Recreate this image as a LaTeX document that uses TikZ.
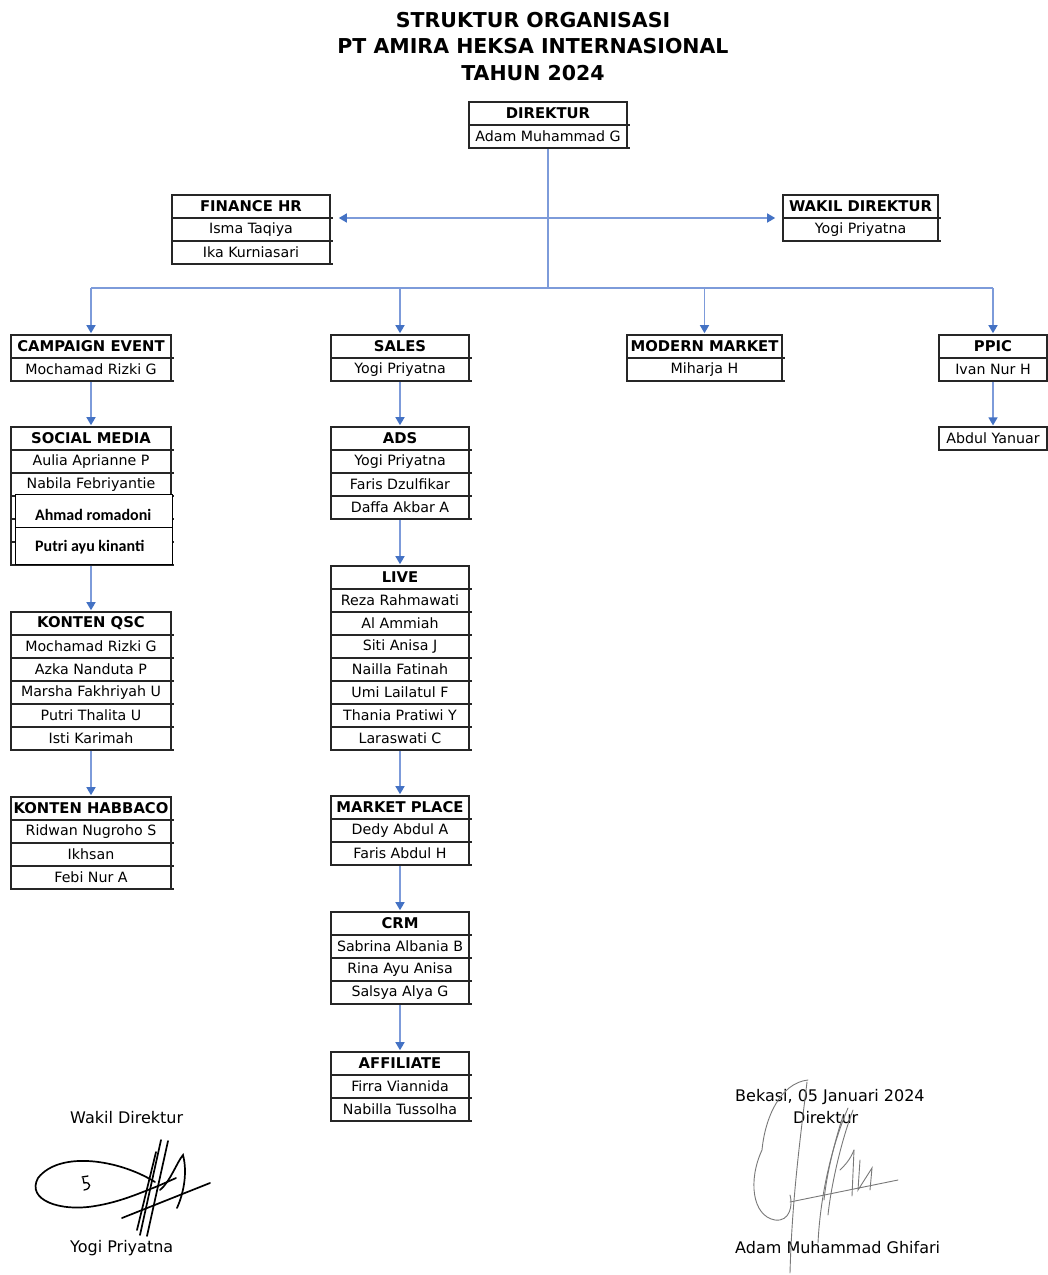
\documentclass[tikz,border=0pt]{standalone}
\usepackage{fontspec}
\setmainfont{DejaVu Sans}
\newfontfamily\calib{Carlito}
\usetikzlibrary{arrows.meta,fit}
\definecolor{lineblue}{RGB}{125,155,218}
\definecolor{tipblue}{RGB}{68,114,196}
\definecolor{siggray}{RGB}{120,120,120}

\tikzset{
 cell/.style={draw=black!85, line width=1.2pt, inner sep=0pt, minimum height=23pt, font=\fontsize{14.2}{15}\selectfont, text=black},
 conn/.style={draw=lineblue, line width=1.4pt, shorten >=1pt, -{Triangle[length=8pt,width=9pt,color=tipblue]}},
 busline/.style={draw=lineblue, line width=1.4pt},
 ttl/.style={font=\bfseries\fontsize{20.5}{22}\selectfont},
 captxt/.style={font=\fontsize{16}{18}\selectfont, anchor=west, inner sep=0pt},
 ovl/.style={draw=black, line width=0.9pt, fill=white, inner sep=0pt, minimum width=157pt},
 ovltxt/.style={font=\calib\bfseries\fontsize{16}{17}\selectfont, anchor=west, inner sep=0pt},
 sigblack/.style={draw=black, line width=1.7pt, line cap=round},
 siggrey/.style={draw=siggray, line width=0.9pt, line cap=round},
}

\newcommand{\orgtab}[5]{%
  \foreach \t [count=\i from 0] in {#5} {
    \pgfmathsetmacro\ya{#4+\i*23}
    \node[cell, minimum width={(#3-#2)*1pt}] (#1-\i) at ({(#2+#3)/2},{\ya+11.5}) {\ifnum\i=0 \bfseries\fontsize{14.8}{15}\selectfont\fi\t};
    \draw[line width=1.2pt, black!85] (#3,\ya+23) -- ++(3,0);
    \xdef\lastidx{\i}
  }
  \node[fit=(#1-0)(#1-\lastidx), inner sep=0pt] (#1) {};
}

\begin{document}
\begin{tikzpicture}[x=1pt,y=-1pt]
\useasboundingbox (0,0) rectangle (1048,1275);
\fill[white] (0,0) rectangle (1048,1275);

% title
\node[ttl] (t1) at (533,20) {STRUKTUR ORGANISASI};
\node[ttl] (t2) at (533,46) {PT AMIRA HEKSA INTERNASIONAL};
\node[ttl] (t3) at (533,73) {TAHUN 2024};

% tables
\orgtab{direktur}{469}{627}{102}{DIREKTUR,Adam Muhammad G}
\orgtab{finance}{172}{330}{195}{FINANCE HR,Isma Taqiya,Ika Kurniasari}
\orgtab{wakil}{783}{938}{195}{WAKIL DIREKTUR,Yogi Priyatna}
\orgtab{campaign}{11}{171}{335}{CAMPAIGN EVENT,Mochamad Rizki G}
\orgtab{sales}{331}{469}{335}{SALES,Yogi Priyatna}
\orgtab{modern}{627}{782}{335}{MODERN MARKET,Miharja H}
\orgtab{ppic}{939}{1047}{335}{PPIC,Ivan Nur H}
\node[cell, minimum width=108pt] (abdul) at (993,438.5) {Abdul Yanuar};
\orgtab{social}{11}{171}{427}{SOCIAL MEDIA,Aulia Aprianne P,Nabila Febriyantie,{},{},{}}
\orgtab{qsc}{11}{171}{612}{KONTEN QSC,Mochamad Rizki G,Azka Nanduta P,Marsha Fakhriyah U,Putri Thalita U,Isti Karimah}
\orgtab{habbaco}{11}{171}{797}{KONTEN HABBACO,Ridwan Nugroho S,Ikhsan,Febi Nur A}
\orgtab{ads}{331}{469}{427}{ADS,Yogi Priyatna,Faris Dzulfikar,Daffa Akbar A}
\orgtab{live}{331}{469}{566}{LIVE,Reza Rahmawati,Al Ammiah,Siti Anisa J,Nailla Fatinah,Umi Lailatul F,Thania Pratiwi Y,Laraswati C}
\orgtab{market}{331}{469}{796}{MARKET PLACE,Dedy Abdul A,Faris Abdul H}
\orgtab{crm}{331}{469}{912}{CRM,Sabrina Albania B,Rina Ayu Anisa,Salsya Alya G}
\orgtab{affiliate}{331}{469}{1052}{AFFILIATE,Firra Viannida,Nabilla Tussolha}

% overlay boxes on social media
\node[ovl, minimum height=33pt] (ahmad) at (93.5,510.5) {};
\node[ovl, minimum height=37pt] (putri) at (93.5,545.5) {};
\node[ovltxt] (ahmadt) at (35,515) {Ahmad romadoni};
\node[ovltxt] (putrit) at (35,547) {Putri ayu kinanti};

% connectors
\coordinate (busy) at (0,288);
\draw[busline] (direktur.south) -- (direktur.south |- busy);
\draw[busline] (campaign.north |- busy) -- (ppic.north |- busy);
\draw[conn, shorten >=8pt] (direktur.south |- wakil.west) -- (finance.east |- wakil.west);
\draw[conn, shorten >=7pt] (direktur.south |- wakil.west) -- (wakil.west);
\draw[conn] (campaign.north |- busy) -- (campaign.north);
\draw[conn] (sales.north |- busy) -- (sales.north);
\draw[conn] (modern.north |- busy) -- (modern.north);
\draw[conn] (ppic.north |- busy) -- (ppic.north);
\draw[conn] (campaign.south) -- (social.north);
\draw[conn] (social.south) -- (qsc.north);
\draw[conn] (qsc.south) -- (habbaco.north);
\draw[conn] (sales.south) -- (ads.north);
\draw[conn] (ads.south) -- (live.north);
\draw[conn] (live.south) -- (market.north);
\draw[conn] (market.south) -- (crm.north);
\draw[conn] (crm.south) -- (affiliate.north);
\draw[conn] (ppic.south) -- (abdul.north);

% signature texts
\node[captxt] (wdlabel) at (70,1118) {Wakil Direktur};
\node[captxt] (wdname) at (70,1248) {Yogi Priyatna};
\node[captxt] (place) at (735,1097) {Bekasi, 05 Januari 2024};
\node[captxt] (dlabel) at (793,1118) {Direktur};
\node[captxt] (dname) at (735,1248) {Adam Muhammad Ghifari};

% left signature
\draw[sigblack] (155,1182) .. controls (120,1160) and (60,1150) .. (38,1178)
  .. controls (26,1200) and (60,1212) .. (95,1206) .. controls (120,1202) and (140,1193) .. (158,1186);
\draw[sigblack, line width=1.3pt] (82,1177) -- (88,1176);
\draw[sigblack, line width=1.3pt] (83,1178) -- (84,1183) .. controls (91,1181) and (92,1189) .. (84,1190);
\draw[sigblack] (161,1140) -- (140,1235);
\draw[sigblack] (168,1141) -- (147,1236);
\draw[sigblack] (156,1152) -- (137,1230);
\draw[sigblack] (122,1218) -- (210,1183);
\draw[sigblack] (160,1190) .. controls (170,1182) and (177,1162) .. (183,1155)
  .. controls (187,1170) and (185,1190) .. (177,1208);
\draw[sigblack] (158,1186) -- (176,1178);

% right signature
\draw[siggrey] (808,1080) .. controls (780,1083) and (765,1118) .. (762,1150)
  .. controls (748,1180) and (752,1216) .. (775,1220) .. controls (790,1222) and (793,1205) .. (790,1195);
\draw[siggrey] (807,1082) .. controls (800,1140) and (792,1200) .. (790,1273);
\draw[siggrey] (848,1108) .. controls (830,1150) and (820,1200) .. (818,1243);
\draw[siggrey] (853,1110) .. controls (838,1150) and (830,1195) .. (828,1215);
\draw[siggrey] (843,1116) .. controls (832,1150) and (826,1180) .. (824,1200);
\draw[siggrey] (854,1150) -- (852,1196);
\draw[siggrey] (840,1170) .. controls (845,1165) and (850,1160) .. (854,1150);
\draw[siggrey] (860,1160) -- (858,1190) -- (872,1168) -- (870,1190);
\draw[siggrey] (790,1202) -- (898,1180);
\end{tikzpicture}
\end{document}
